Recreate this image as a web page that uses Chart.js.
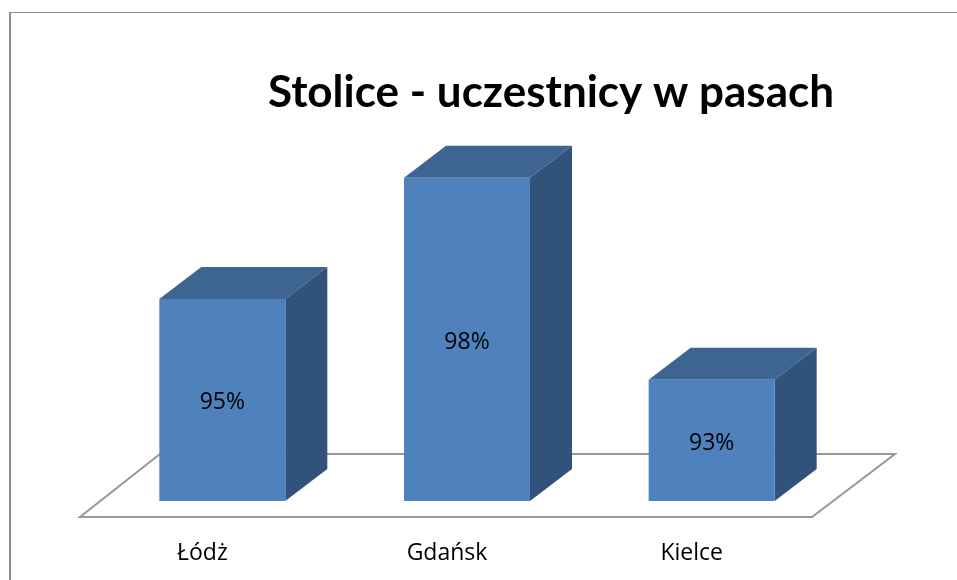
<!DOCTYPE html>
<html>
<head>
<meta charset="utf-8">
<title>Stolice - uczestnicy w pasach</title>
<script src="https://cdn.jsdelivr.net/npm/chart.js@4"></script>
<style>
html, body { margin: 0; padding: 0; background: #fff; overflow: hidden; }
#wrap { position: relative; width: 957px; height: 580px; overflow: hidden; }
#chart { position: absolute; left: 0; top: 0; }
#frame { position: absolute; left: 9px; top: 12px; width: 960px; height: 580px; border-left: 2px solid #8c8c8c; border-top: 1px solid #8c8c8c; }
</style>
</head>
<body>
<div id="wrap">
<canvas id="chart" width="957" height="580"></canvas>
<div id="frame"></div>
</div>
<script>
var categories = ['Łódż', 'Gdańsk', 'Kielce'];
var values = [95, 98, 93];
var chartTitle = 'Stolice - uczestnicy w pasach';

var FRONT = '#4f81bd';
var TOP = '#3e6592';
var SIDE = '#31527a';
var DEPTH_X = 42;
var DEPTH_Y = 32;

// floor and the top/side faces go under the bars that Chart.js draws
var box3d = {
    id: 'box3d',
    beforeDatasetsDraw: function (chart) {
        var c = chart.ctx;
        var a = chart.chartArea;

        c.save();
        c.beginPath();
        c.moveTo(a.left - 20, a.bottom + 16);
        c.lineTo(a.right - 22, a.bottom + 16);
        c.lineTo(a.right + 61, a.bottom - 47);
        c.lineTo(a.left + 60, a.bottom - 47);
        c.closePath();
        c.strokeStyle = '#979797';
        c.lineWidth = 2;
        c.stroke();

        chart.getDatasetMeta(0).data.forEach(function (bar) {
            var l = bar.x - bar.width / 2;
            var r = bar.x + bar.width / 2;

            c.fillStyle = TOP;
            c.beginPath();
            c.moveTo(l, bar.y);
            c.lineTo(l + DEPTH_X, bar.y - DEPTH_Y);
            c.lineTo(r + DEPTH_X, bar.y - DEPTH_Y);
            c.lineTo(r, bar.y);
            c.closePath();
            c.fill();

            c.fillStyle = SIDE;
            c.beginPath();
            c.moveTo(r, bar.y);
            c.lineTo(r + DEPTH_X, bar.y - DEPTH_Y);
            c.lineTo(r + DEPTH_X, bar.base - DEPTH_Y);
            c.lineTo(r, bar.base);
            c.closePath();
            c.fill();
        });
        c.restore();
    },
    afterDatasetsDraw: function (chart) {
        var c = chart.ctx;
        c.save();
        c.fillStyle = '#000';
        c.font = '23px "Open Sans", sans-serif';
        c.textAlign = 'center';
        c.textBaseline = 'middle';
        chart.getDatasetMeta(0).data.forEach(function (bar, i) {
            c.fillText(values[i] + '%', bar.x, (bar.y + bar.base) / 2 + 3);
        });
        c.restore();
    }
};

var ctx = document.getElementById('chart').getContext('2d');
var chart = new Chart(ctx, {
    type: 'bar',
    data: {
        labels: categories,
        datasets: [{
            data: values,
            base: 90,
            backgroundColor: FRONT,
            borderWidth: 0,
            barPercentage: 0.515,
            categoryPercentage: 1
        }]
    },
    options: {
        responsive: false,
        animation: false,
        layout: { padding: { left: 100, right: 123, top: 0, bottom: -26.6 } },
        plugins: {
            legend: { display: false },
            tooltip: { enabled: false },
            title: {
                display: true,
                text: chartTitle,
                align: 'end',
                fullSize: false,
                color: '#000',
                font: { family: 'Lato', size: 44, weight: 'bold', lineHeight: 1.2 },
                padding: { top: 66, bottom: -22 }
            }
        },
        scales: {
            x: {
                grid: { display: false, drawTicks: false },
                border: { display: false },
                ticks: { color: '#000', font: { family: '"Open Sans"', size: 23 }, labelOffset: -20, padding: 39, maxRotation: 0 }
            },
            y: {
                display: false,
                min: 90,
                max: 100
            }
        }
    },
    plugins: [box3d]
});
</script>
</body>
</html>
